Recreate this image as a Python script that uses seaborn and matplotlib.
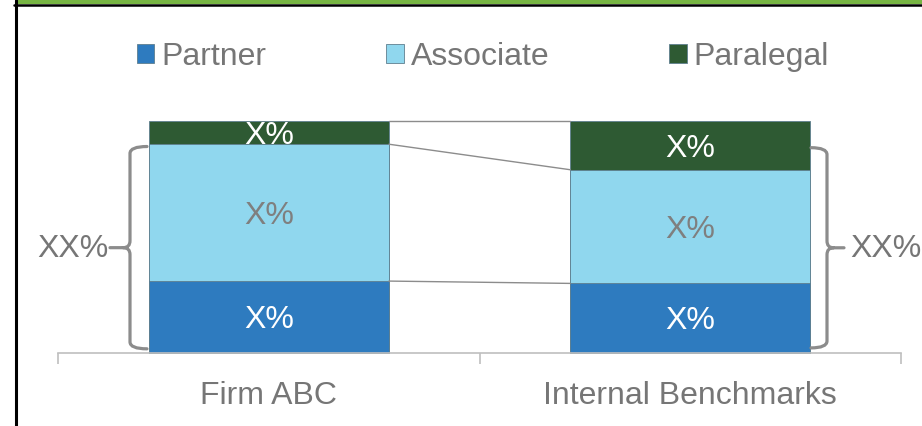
import numpy as np
import pandas as pd
import seaborn as sns
import matplotlib.pyplot as plt
from matplotlib.path import Path
from matplotlib.patches import PathPatch, Rectangle
from matplotlib.lines import Line2D

# Data ------------------------------------------------------------------------
categories = ['Firm ABC', 'Internal Benchmarks']
partner = [31, 30]
associate = [59, 49]
paralegal = [10, 21]
segment_labels = ['X%', 'X%']
brace_label = 'XX%'

colors = {'Partner': '#2E7BBF', 'Associate': '#90D7EE', 'Paralegal': '#2E5A33'}
text_gray = '#767676'
fs = 23

df = pd.DataFrame({'category': categories, 'Partner': partner,
                   'Associate': associate, 'Paralegal': paralegal})
df['lvl1'] = df['Partner']
df['lvl2'] = df['Partner'] + df['Associate']
df['lvl3'] = df['lvl2'] + df['Paralegal']

sns.set_style('white')
plt.rcParams['font.family'] = ['Liberation Sans', 'DejaVu Sans']

fig = plt.figure(figsize=(9.22, 4.26), dpi=100)
ax = fig.add_axes([58 / 922, 73 / 426, 843 / 922, 232 / 426])

bar_w = 0.57
# Stacked bars drawn from the top level down
for col, name in [('lvl3', 'Paralegal'), ('lvl2', 'Associate'), ('lvl1', 'Partner')]:
    sns.barplot(data=df, x='category', y=col, color=colors[name], width=bar_w,
                saturation=1, edgecolor='#5f7f8f', linewidth=0.6, ax=ax, clip_on=False)

ax.set_xlim(-0.5, 1.5)
ax.set_ylim(0, 100)

# Segment labels (sit a little below the segment centre, like the original)
off = 1.4
for i in range(len(categories)):
    ax.text(i, df['lvl1'][i] / 2 - off, segment_labels[i], ha='center', va='center',
            color='white', fontsize=fs)
    ax.text(i, df['lvl1'][i] + df['Associate'][i] / 2 - off, segment_labels[i],
            ha='center', va='center', color='#7f7f7f', fontsize=fs)
    ax.text(i, df['lvl2'][i] + df['Paralegal'][i] / 2 - off, segment_labels[i],
            ha='center', va='center', color='white', fontsize=fs)

# Connector lines between bars
for col in ['lvl1', 'lvl2', 'lvl3']:
    ax.plot([bar_w / 2, 1 - bar_w / 2], [df[col][0], df[col][1]],
            color='#8c8c8c', lw=1.0, clip_on=False, zorder=1)


def brace(x_v, x_hook, x_tip, y_top, y_bot, r=3.0):
    y_mid = (y_top + y_bot) / 2
    dx = (x_hook - x_v) * 0.4
    verts = [(x_hook, y_top), (x_v, y_top), (x_v, y_top - r),
             (x_v, y_mid + r), (x_v, y_mid), (x_v - dx, y_mid),
             (x_tip, y_mid),
             (x_v - dx, y_mid), (x_v, y_mid), (x_v, y_mid - r),
             (x_v, y_bot + r), (x_v, y_bot), (x_hook, y_bot)]
    codes = [Path.MOVETO, Path.CURVE3, Path.CURVE3,
             Path.LINETO, Path.CURVE3, Path.CURVE3,
             Path.LINETO,
             Path.MOVETO, Path.CURVE3, Path.CURVE3,
             Path.LINETO, Path.CURVE3, Path.CURVE3]
    ax.add_patch(PathPatch(Path(verts, codes), fill=False, edgecolor='#8c8c8c',
                           lw=2.3, capstyle='round', clip_on=False))


def px2x(px):
    return (px - 58) / 421.5 - 0.5


brace(px2x(130), px2x(147), px2x(110), 89.0, 1.8)
ax.text(px2x(109), 45.0, brace_label, ha='right', va='center',
        color=text_gray, fontsize=fs)
brace(px2x(827), px2x(811), px2x(844), 88.5, 2.2)
ax.text(px2x(850), 45.0, brace_label, ha='left', va='center',
        color=text_gray, fontsize=fs, clip_on=False)

# Axis styling
for s in ['top', 'left', 'right']:
    ax.spines[s].set_visible(False)
ax.spines['bottom'].set_color('#bfbfbf')
ax.spines['bottom'].set_linewidth(1.2)
ax.set_yticks([])
ax.set_xticks([-0.5, 0.5, 1.5])
ax.set_xticklabels([])
ax.set_xticks([0, 1], minor=True)
ax.set_xticklabels(categories, minor=True, fontsize=fs, color=text_gray)
ax.tick_params(axis='x', which='major', length=8, width=1.2, color='#bfbfbf',
               direction='out', bottom=True)
ax.tick_params(axis='x', which='minor', length=0, pad=20)
ax.set_xlabel('')
ax.set_ylabel('')

# Legend
handles = [Rectangle((0, 0), 1, 1, facecolor=colors[n], edgecolor='#5f7f8f', lw=0.6)
           for n in ['Partner', 'Associate', 'Paralegal']]
fig.legend(handles, ['Partner', 'Associate', 'Paralegal'], loc='center',
           bbox_to_anchor=(483 / 922, 1 - 57 / 426), ncol=3, frameon=False,
           fontsize=fs, labelcolor=text_gray, handlelength=0.55, handleheight=0.55,
           handletextpad=0.22, columnspacing=3.75)

# Frame: green band on top, black rule below it, black rule at left
fig.add_artist(Rectangle((17 / 922, 1 - 3.5 / 426), 1, 3.5 / 426,
                         transform=fig.transFigure, facecolor='#77B543', lw=0))
fig.add_artist(Line2D([14 / 922, 1], [1 - 4.5 / 426, 1 - 4.5 / 426],
                      transform=fig.transFigure, color='black', lw=1.8))
fig.add_artist(Line2D([15.5 / 922, 15.5 / 922], [0, 1],
                      transform=fig.transFigure, color='black', lw=2.2))

fig.savefig('out.png', dpi=100)
